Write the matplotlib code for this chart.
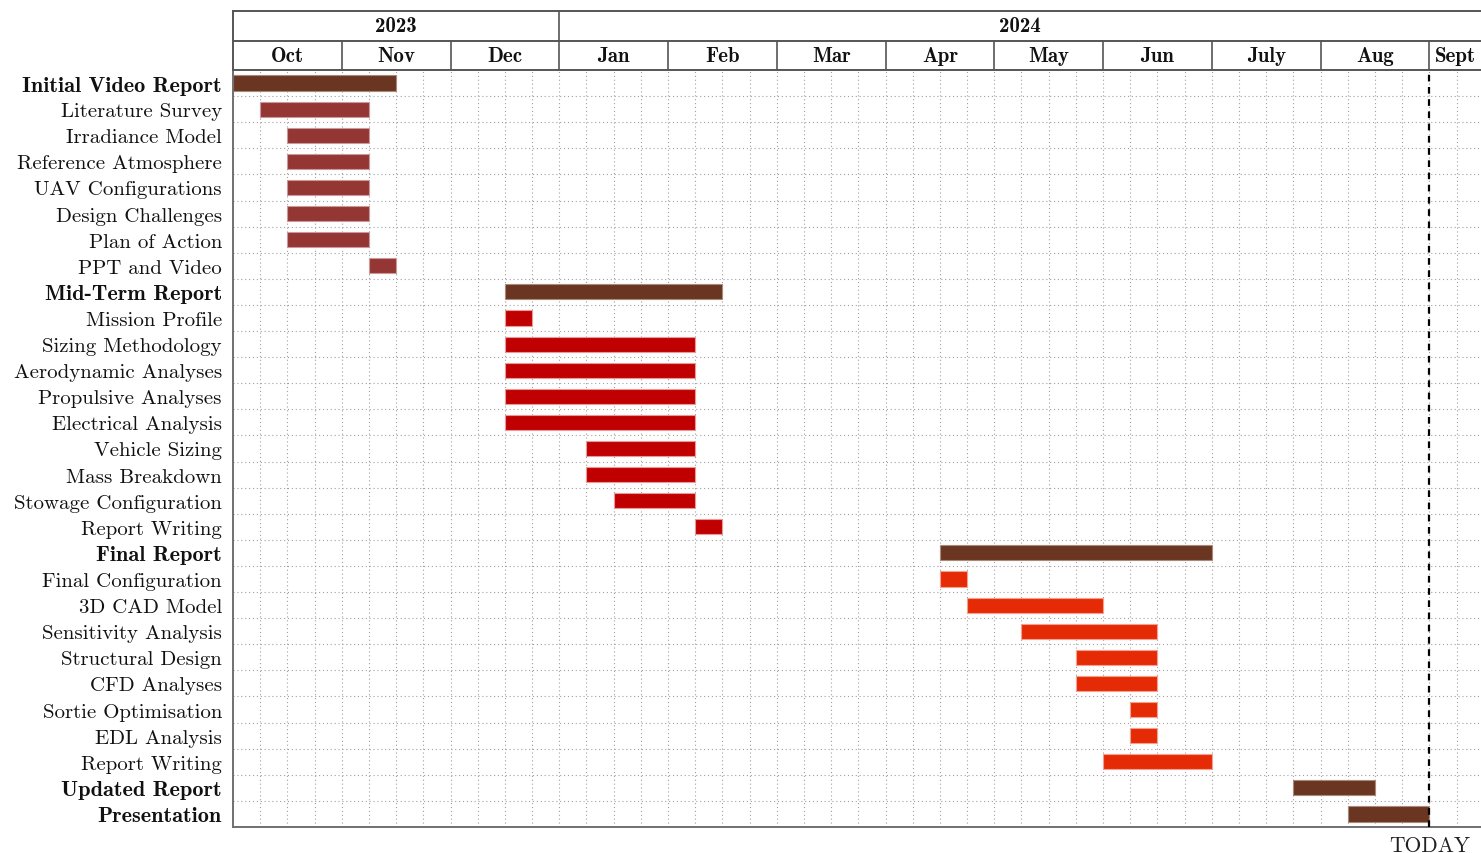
import matplotlib
matplotlib.use("Agg")
import matplotlib.pyplot as plt

# ---------------- data ----------------
tasks = ["Initial Video Report", "Literature Survey", "Irradiance Model",
         "Reference Atmosphere", "UAV Configurations", "Design Challenges",
         "Plan of Action", "PPT and Video",
         "Mid-Term Report", "Mission Profile", "Sizing Methodology",
         "Aerodynamic Analyses", "Propulsive Analyses", "Electrical Analysis",
         "Vehicle Sizing", "Mass Breakdown", "Stowage Configuration",
         "Report Writing",
         "Final Report", "Final Configuration", "3D CAD Model",
         "Sensitivity Analysis", "Structural Design", "CFD Analyses",
         "Sortie Optimisation", "EDL Analysis", "Report Writing",
         "Updated Report", "Presentation"]
# start / end in weeks (4 per month) from 1 Oct 2023
starts = [0, 1, 2, 2, 2, 2, 2, 5,
          10, 10, 10, 10, 10, 10, 13, 13, 14, 17,
          26, 26, 27, 29, 31, 31, 33, 33, 32,
          39, 41]
ends = [6, 5, 5, 5, 5, 5, 5, 6,
        18, 11, 17, 17, 17, 17, 17, 17, 17, 18,
        36, 27, 32, 34, 34, 34, 34, 34, 36,
        42, 44]
# 0 = group header, 1/2/3 = task phase
kinds = [0, 1, 1, 1, 1, 1, 1, 1,
         0, 2, 2, 2, 2, 2, 2, 2, 2, 2,
         0, 3, 3, 3, 3, 3, 3, 3, 3,
         0, 0]
months = ["Oct", "Nov", "Dec", "Jan", "Feb", "Mar", "Apr", "May", "Jun",
          "July", "Aug", "Sept"]
years = ["2023", "2024"]
today = 44
xmax = 45.9
year_spans = [(0, 12), (12, xmax)]

colors = {0: "#6a3621", 1: "#943634", 2: "#c00000", 3: "#e52b05"}
edges = {0: "#a88a7c", 1: "#c99a99", 2: "#e89a9a", 3: "#f3a08e"}

W, H = 1481, 854
fig = plt.figure(figsize=(W / 100, H / 100), dpi=100)

left = 233 / W
chart_top, chart_bot = 71, 828
head_top = 12
ax = fig.add_axes([left, (H - chart_bot) / H, 1 - left, (chart_bot - chart_top) / H])
hx = fig.add_axes([left, (H - chart_top) / H, 1 - left, (chart_top - head_top) / H])

n = len(tasks)
ax.set_xlim(0, xmax)
ax.set_ylim(n, 0)

# grid
for x in range(1, int(xmax) + 1):
    ax.axvline(x, color="#a0a0a0", lw=0.8, ls=(0, (1, 2.5)), zorder=0)
for y in range(1, n):
    ax.axhline(y, color="#a0a0a0", lw=0.8, ls=(0, (1, 2.5)), zorder=0)

for i, (s, e, k) in enumerate(zip(starts, ends, kinds)):
    ax.barh(i + 0.5, e - s, left=s, height=0.58, color=colors[k],
            edgecolor=edges[k], linewidth=0.8, zorder=2)

ax.axvline(today, color="black", lw=1.6, ls=(0, (3, 2.5)), zorder=3)
ax.text(today, n + 0.68, "TODAY", ha="center", va="center",
        fontsize=15.5, family="cmr10", color="#222222")

ax.set_xticks([])
ax.set_yticks([i + 0.5 for i in range(n)])
ax.set_yticklabels(tasks)
for lab, k in zip(ax.get_yticklabels(), kinds):
    if k == 0:
        lab.set_family("cmb10")
        lab.set_fontsize(16)
    else:
        lab.set_family("cmr10")
        lab.set_fontsize(15)
    lab.set_color("#111111")
ax.tick_params(axis="y", length=0, pad=8)
for sp in ["top", "right"]:
    ax.spines[sp].set_visible(False)
for sp in ["left", "bottom"]:
    ax.spines[sp].set_color("#707070")
    ax.spines[sp].set_linewidth(1.4)

# header
hx.set_xlim(0, xmax)
hx.set_ylim(0, 2)
hx.axis("off")
lc = "#555555"
for y in (0, 1, 2):
    hx.plot([0, xmax], [y, y], color=lc, lw=1.4, clip_on=False)
hx.plot([0, 0], [0, 2], color=lc, lw=1.4, clip_on=False)
for i, m in enumerate(months):
    c = 4 * i + 2
    if i > 0:
        hx.plot([4 * i, 4 * i], [0, 1], color=lc, lw=1.2)
    hx.text(min(c, (4 * i + xmax) / 2), 0.5, m, ha="center", va="center",
            fontsize=15, family="cmb10", color="#111111")
for yr, (a, b) in zip(years, year_spans):
    if a > 0:
        hx.plot([a, a], [1, 2], color=lc, lw=1.2)
    hx.text((a + b) / 2, 1.5, yr, ha="center", va="center",
            fontsize=15, family="cmb10", color="#111111")

fig.savefig("out.png", dpi=100)
